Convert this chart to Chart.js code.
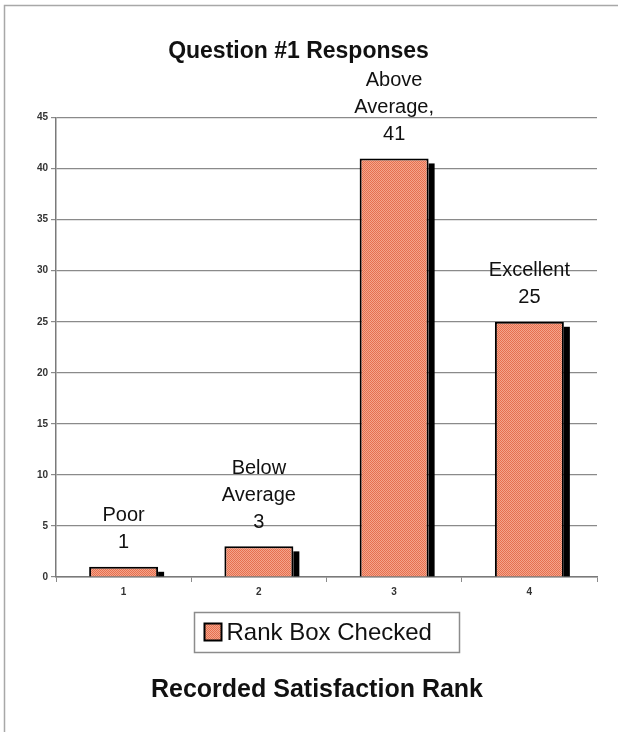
<!DOCTYPE html>
<html>
<head>
<meta charset="utf-8">
<script src="https://cdn.jsdelivr.net/npm/chart.js@4"></script>
<style>
  html, body { margin: 0; padding: 0; background: #ffffff; }
  #wrap { position: relative; width: 618px; height: 732px; }
</style>
</head>
<body>
<div id="wrap"><canvas id="c" width="618" height="732"></canvas></div>
<script>
// ---- data ----
const categories = ['1', '2', '3', '4'];
const responseCounts = [1, 3, 41, 25];
const labelWords = [['Poor'], ['Below', 'Average'], ['Above', 'Average,'], ['Excellent']];
const yTicks = [0, 5, 10, 15, 20, 25, 30, 35, 40, 45];
const seriesName = 'Rank Box Checked';
const chartTitle = 'Question #1 Responses';
const xAxisTitle = 'Recorded Satisfaction Rank';

const FONT = "'Liberation Sans', Arial, Helvetica, sans-serif";

// hatched salmon fill pattern
function makePattern() {
  const p = document.createElement('canvas');
  p.width = 2; p.height = 2;
  const g = p.getContext('2d');
  g.fillStyle = '#e6704f';
  g.fillRect(0, 0, 2, 2);
  g.fillStyle = '#f4a58c';
  g.fillRect(1, 0, 1, 1);
  g.fillRect(0, 1, 1, 1);
  return document.getElementById('c').getContext('2d').createPattern(p, 'repeat');
}
const barPattern = makePattern();

const decorPlugin = {
  id: 'decor',
  beforeDraw(chart) {
    const ctx = chart.ctx;
    ctx.save();
    ctx.fillStyle = '#ffffff';
    ctx.fillRect(0, 0, chart.width, chart.height);
    ctx.strokeStyle = '#a8a8a8';
    ctx.lineWidth = 1.5;
    ctx.beginPath();
    ctx.moveTo(4.5, chart.height);
    ctx.lineTo(4.5, 5.5);
    ctx.lineTo(chart.width, 5.5);
    ctx.stroke();
    ctx.restore();
  },
  beforeDatasetsDraw(chart) {
    const ctx = chart.ctx;
    const meta = chart.getDatasetMeta(0);
    ctx.save();
    ctx.fillStyle = '#000000';
    meta.data.forEach((bar) => {
      const right = bar.x + bar.width / 2;
      const top = bar.y + 5;
      const h = bar.base - top;
      if (h > 0) ctx.fillRect(right, top, 6, h);
    });
    ctx.restore();
  },
  afterDatasetsDraw(chart) {
    const ctx = chart.ctx;
    const meta = chart.getDatasetMeta(0);
    ctx.save();
    ctx.fillStyle = '#111111';
    ctx.font = '20px ' + FONT;
    ctx.textAlign = 'center';
    ctx.textBaseline = 'middle';
    meta.data.forEach((bar, i) => {
      const lines = labelWords[i].concat([String(responseCounts[i])]);
      const n = lines.length;
      lines.forEach((t, k) => {
        const y = bar.y - 24 - (n - 1 - k) * 27;
        ctx.fillText(t, bar.x, y);
      });
    });
    ctx.restore();
  },
  afterDraw(chart) {
    const ctx = chart.ctx;
    const area = chart.chartArea;
    const cx = (area.left + area.right) / 2;
    ctx.save();
    // legend
    const bw = 265, bh = 40;
    const bx = Math.round(cx - bw / 2) + 0.5, by = 612.5;
    ctx.strokeStyle = '#8c8c8c';
    ctx.lineWidth = 1.5;
    ctx.strokeRect(bx, by, bw, bh);
    ctx.fillStyle = barPattern;
    ctx.fillRect(bx + 10, by + 11, 17, 17);
    ctx.strokeStyle = '#000000';
    ctx.lineWidth = 2;
    ctx.strokeRect(bx + 10, by + 11, 17, 17);
    ctx.fillStyle = '#111111';
    ctx.font = '24px ' + FONT;
    ctx.textAlign = 'left';
    ctx.textBaseline = 'middle';
    ctx.fillText(seriesName, bx + 32, by + bh / 2 + 1);
    // x-axis title
    ctx.font = 'bold 25px ' + FONT;
    ctx.textAlign = 'center';
    ctx.fillText(xAxisTitle, chart.width / 2 + 8, 690);
    ctx.restore();
  }
};

new Chart(document.getElementById('c'), {
  type: 'bar',
  data: {
    labels: categories,
    datasets: [{
      label: seriesName,
      data: responseCounts,
      backgroundColor: barPattern,
      borderColor: '#000000',
      borderWidth: 2,
      borderSkipped: 'bottom',
      categoryPercentage: 1.0,
      barPercentage: 0.51
    }]
  },
  options: {
    responsive: false,
    animation: false,
    layout: { padding: { left: 0, right: 21, top: 0, bottom: 133 } },
    plugins: {
      legend: { display: false },
      tooltip: { enabled: false },
      title: {
        display: true,
        text: chartTitle,
        color: '#111111',
        font: { family: FONT, size: 23, weight: 'bold' },
        padding: { top: 38, bottom: 52 }
      }
    },
    scales: {
      x: {
        grid: { display: true, offset: true, drawOnChartArea: false, drawTicks: true, tickLength: 5, color: '#8a8a8a' },
        border: { display: true, color: '#7a7a7a', width: 1.5 },
        ticks: { color: '#333333', font: { family: FONT, size: 10, weight: 'bold' }, padding: 4, maxRotation: 0 },
        afterFit(scale) { scale.height = 22; }
      },
      y: {
        min: 0,
        max: 45,
        afterBuildTicks(scale) { scale.ticks = yTicks.map(v => ({ value: v })); },
        grid: { color: '#8a8a8a', lineWidth: 1.2, tickLength: 5 },
        border: { display: true, color: '#7a7a7a', width: 1.5 },
        ticks: { color: '#333333', font: { family: FONT, size: 10, weight: 'bold' }, padding: 3 },
        afterFit(scale) { scale.width = 56; }
      }
    }
  },
  plugins: [decorPlugin]
});
</script>
</body>
</html>
